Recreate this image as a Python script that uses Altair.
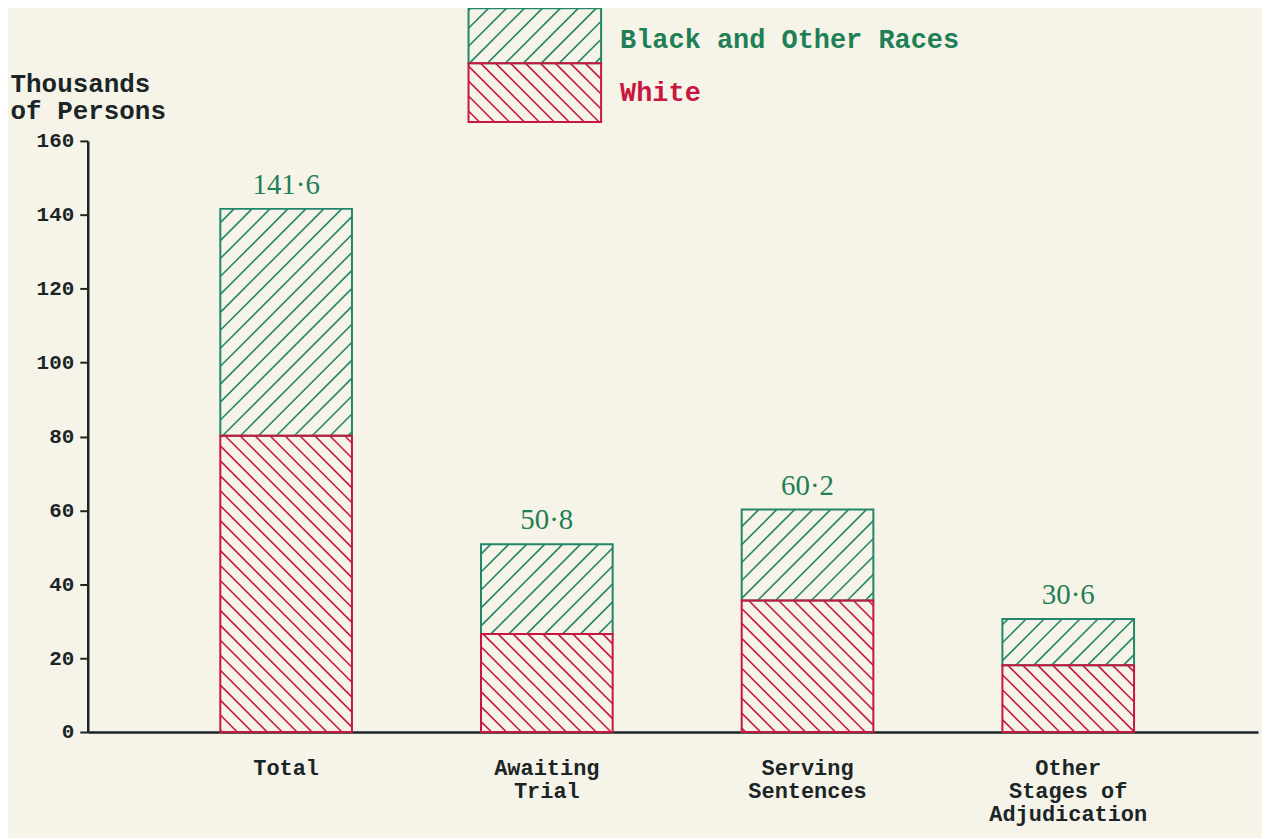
import math
import altair as alt
import pandas as pd

# ---------------- data ----------------
categories = ["Total", "Awaiting\nTrial", "Serving\nSentences", "Other\nStages of\nAdjudication"]
white = [80.2, 26.5, 35.6, 18.1]
black_other = [61.4, 24.3, 24.6, 12.5]
totals = [141.6, 50.8, 60.2, 30.6]
total_labels = ["141·6", "50·8", "60·2", "30·6"]
y_ticks = [0, 20, 40, 60, 80, 100, 120, 140, 160]
legend_labels = ["Black and Other Races", "White"]
y_title = ["Thousands", "of Persons"]

# ---------------- layout / style ----------------
W, H = 1174, 593
X_DOMAIN = [-0.761, 3.728]
Y_DOMAIN = [0, 160]
BAR_W = 0.505
GREEN = "#1f7f55"
GREEN_LINE = "#23866a"
RED = "#c8173f"
INK = "#1b2527"
BG = "#f6f4e8"
MONO = "Liberation Mono"
SERIF = "Liberation Serif"
G_SPACING = 18.0   # horizontal hatch spacing, px
R_SPACING = 15.0

pxx = W / (X_DOMAIN[1] - X_DOMAIN[0])
pxy = H / (Y_DOMAIN[1] - Y_DOMAIN[0])


def to_u(x):
    return (x - X_DOMAIN[0]) * pxx


def to_x(u):
    return u / pxx + X_DOMAIN[0]


def hatch(u0, u1, v0, v1, spacing, direction):
    """45-degree hatch segments inside a pixel box (v upward)."""
    segs = []
    if direction > 0:  # '/'  v = u + c
        k0 = math.ceil((v0 - u1) / spacing)
        k1 = math.floor((v1 - u0) / spacing)
        for k in range(k0, k1 + 1):
            c = k * spacing
            a = max(u0, v0 - c)
            b = min(u1, v1 - c)
            if b - a > 0.8:
                segs.append((a, a + c, b, b + c))
    else:  # '\'  v = c - u
        k0 = math.ceil((u0 + v0) / spacing)
        k1 = math.floor((u1 + v1) / spacing)
        for k in range(k0, k1 + 1):
            c = k * spacing
            a = max(u0, c - v1)
            b = min(u1, c - v0)
            if b - a > 0.8:
                segs.append((a, c - a, b, c - b))
    return segs


seg_rows, hatch_rows = [], []
for i, cat in enumerate(categories):
    x0, x1 = i - BAR_W / 2, i + BAR_W / 2
    parts = [("Black and Other Races", white[i], totals[i], G_SPACING, 1),
             ("White", 0.0, white[i], R_SPACING, -1)]
    for race, y0, y1, sp, d in parts:
        seg_rows.append(dict(cat=cat, race=race, x0=x0, x1=x1, y0=y0, y1=y1))
        for (a, va, b, vb) in hatch(to_u(x0), to_u(x1), y0 * pxy, y1 * pxy, sp, d):
            hatch_rows.append(dict(race=race, hx=to_x(a), hy=va / pxy, hx2=to_x(b), hy2=vb / pxy))

# legend box (pixel layout relative to plot top)
LEG_U0, LEG_U1 = 382, 515
LEG_TOP, LEG_MID, LEG_BOT = 133, 78, 19  # px above plot top
leg_parts = [("Black and Other Races", LEG_MID, LEG_TOP, G_SPACING, 1),
             ("White", LEG_BOT, LEG_MID, R_SPACING, -1)]
for race, pa, pb, sp, d in leg_parts:
    v0 = H + pa
    v1 = H + pb
    seg_rows.append(dict(cat="legend", race=race, x0=to_x(LEG_U0), x1=to_x(LEG_U1),
                         y0=v0 / pxy, y1=v1 / pxy))
    for (a, va, b, vb) in hatch(LEG_U0, LEG_U1, v0, v1, sp, d):
        hatch_rows.append(dict(race=race, hx=to_x(a), hy=va / pxy, hx2=to_x(b), hy2=vb / pxy))

segs = pd.DataFrame(seg_rows)
hatches = pd.DataFrame(hatch_rows)
labels_df = pd.DataFrame(dict(idx=list(range(len(categories))), cat=categories,
                              total=totals, tl=total_labels))

xs = alt.Scale(domain=X_DOMAIN, nice=False, zero=False)
ys = alt.Scale(domain=Y_DOMAIN, nice=False)

x_axis = alt.Axis(labels=False, ticks=False, grid=False, title=None,
                  domainColor=INK, domainWidth=2.5)
y_axis = alt.Axis(values=y_ticks, grid=False, tickSize=8, tickWidth=2, tickColor=INK,
                  domainColor=INK, domainWidth=2.5, labelFont=MONO, labelFontSize=21,
                  labelFontWeight="bold", labelColor=INK, labelPadding=6,
                  title=y_title, titleAngle=0, titleX=-78, titleY=-50, titleAlign="left",
                  titleBaseline="alphabetic", titleFont=MONO, titleFontSize=26,
                  titleFontWeight="bold", titleColor=INK, titleLineHeight=28)


def race_filter(r):
    return alt.datum.race == r


hatch_g = alt.Chart(hatches).transform_filter(race_filter("Black and Other Races")).mark_rule(
    color=GREEN_LINE, strokeWidth=1.6, clip=False).encode(
    x=alt.X("hx:Q", scale=xs, axis=x_axis), y=alt.Y("hy:Q", scale=ys, axis=y_axis),
    x2="hx2:Q", y2="hy2:Q")
hatch_r = alt.Chart(hatches).transform_filter(race_filter("White")).mark_rule(
    color=RED, strokeWidth=1.6, clip=False).encode(
    x=alt.X("hx:Q", scale=xs), y=alt.Y("hy:Q", scale=ys), x2="hx2:Q", y2="hy2:Q")

box_g = alt.Chart(segs).transform_filter(race_filter("Black and Other Races")).mark_rect(
    fill=None, stroke=GREEN_LINE, strokeWidth=2, clip=False).encode(
    x=alt.X("x0:Q", scale=xs), x2="x1:Q", y=alt.Y("y0:Q", scale=ys), y2="y1:Q")
box_r = alt.Chart(segs).transform_filter(race_filter("White")).mark_rect(
    fill=None, stroke=RED, strokeWidth=2, clip=False).encode(
    x=alt.X("x0:Q", scale=xs), x2="x1:Q", y=alt.Y("y0:Q", scale=ys), y2="y1:Q")

value_text = alt.Chart(labels_df).mark_text(
    font=SERIF, fontSize=29, color=GREEN, baseline="alphabetic", dy=-15).encode(
    x=alt.X("idx:Q", scale=xs), y=alt.Y("total:Q", scale=ys), text="tl:N")

cat_text = alt.Chart(labels_df).mark_text(
    font=MONO, fontSize=22, fontWeight="bold", color=INK, baseline="alphabetic",
    lineBreak="\n", lineHeight=23).encode(
    x=alt.X("idx:Q", scale=xs), y=alt.value(H + 43), text="cat:N")

leg_text_g = alt.Chart(pd.DataFrame({"t": [legend_labels[0]]})).mark_text(
    font=MONO, fontSize=27, fontWeight="bold", color=GREEN, align="left",
    baseline="alphabetic").encode(x=alt.value(534), y=alt.value(-93), text="t:N")
leg_text_r = alt.Chart(pd.DataFrame({"t": [legend_labels[1]]})).mark_text(
    font=MONO, fontSize=27, fontWeight="bold", color=RED, align="left",
    baseline="alphabetic").encode(x=alt.value(534), y=alt.value(-40), text="t:N")

chart = alt.layer(hatch_g, hatch_r, box_g, box_r, value_text, cat_text,
                  leg_text_g, leg_text_r).properties(
    width=W, height=H,
    autosize=alt.AutoSizeParams(type="none"),
    padding={"left": 80, "top": 132, "right": 4, "bottom": 105},
    background=BG,
).configure_view(stroke=None)

chart.save("out.html", embed_options={"renderer": "svg", "actions": False})
